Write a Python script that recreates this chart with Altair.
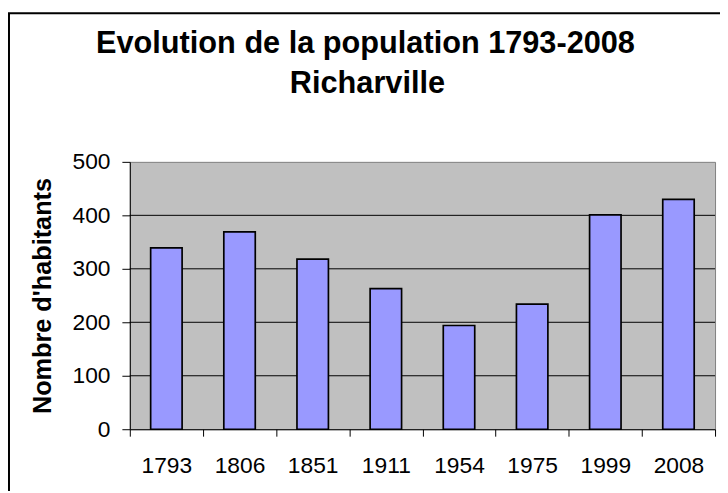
import altair as alt
import pandas as pd

years = ["1793", "1806", "1851", "1911", "1954", "1975", "1999", "2008"]
population = [339, 369, 318, 263, 194, 234, 401, 430]
grid_values = [100, 200, 300, 400]
y_ticks = [0, 100, 200, 300, 400, 500]
title_line1 = "Evolution de la population 1793-2008"
title_line2 = "Richarville"
y_title = "Nombre d'habitants"

df = pd.DataFrame({"annee": years, "habitants": population})
grid_df = pd.DataFrame({"habitants": grid_values})
one = pd.DataFrame({"a": [0]})

FONT = "Liberation Sans"
W, H = 591, 270

y_scale = alt.Scale(domain=[0, 500], nice=False)
y_axis = alt.Axis(
    values=y_ticks,
    title=y_title,
    titleFont=FONT,
    titleFontSize=25.5,
    titleFontWeight="bold",
    titleColor="black",
    titleX=-80,
    titleBaseline="alphabetic",
    labelFont=FONT,
    labelFontSize=23,
    labelColor="black",
    labelPadding=12,
    tickSize=8,
    tickColor="black",
    domainColor="black",
    grid=False,
)

grid = alt.Chart(grid_df).mark_rule(color="black", strokeWidth=1).encode(
    y=alt.Y("habitants:Q", scale=y_scale, axis=y_axis)
)

bars = alt.Chart(df).mark_bar(
    color="#9999FF", stroke="black", strokeWidth=1.7, width=alt.RelativeBandSize(0.43)
).encode(
    x=alt.X(
        "annee:N",
        sort=years,
        scale=alt.Scale(paddingInner=0, paddingOuter=0),
        axis=alt.Axis(
            title=None,
            labelAngle=0,
            labelFont=FONT,
            labelFontSize=23,
            labelColor="black",
            labelPadding=19,
            tickBand="extent",
            tickSize=7,
            tickColor="black",
            domainColor="black",
            grid=False,
        ),
    ),
    y=alt.Y("habitants:Q", scale=y_scale, axis=y_axis),
)

frame = alt.Chart(one).mark_rect(filled=False, stroke="black", strokeWidth=2, clip=False).encode(
    x=alt.value(-122), x2=alt.value(700), y=alt.value(-150), y2=alt.value(400)
)

t1 = alt.Chart(one).mark_text(
    text=title_line1, font=FONT, fontSize=31, fontWeight="bold", color="black",
    align="center", baseline="alphabetic", clip=False
).encode(x=alt.value(238), y=alt.value(-110))

t2 = alt.Chart(one).mark_text(
    text=title_line2, font=FONT, fontSize=31, fontWeight="bold", color="black",
    align="center", baseline="alphabetic", clip=False
).encode(x=alt.value(240), y=alt.value(-70))

chart = alt.layer(grid, bars, frame, t1, t2).properties(
    width=W,
    height=H,
    autosize=alt.AutoSizeParams(type="none"),
    padding={"left": 123, "top": 153, "right": 5, "bottom": 60},
    background="white",
).configure_view(
    stroke="#808080", fill="#C0C0C0", strokeWidth=1
)

chart.save("out.html", embed_options={"renderer": "svg", "actions": False})
